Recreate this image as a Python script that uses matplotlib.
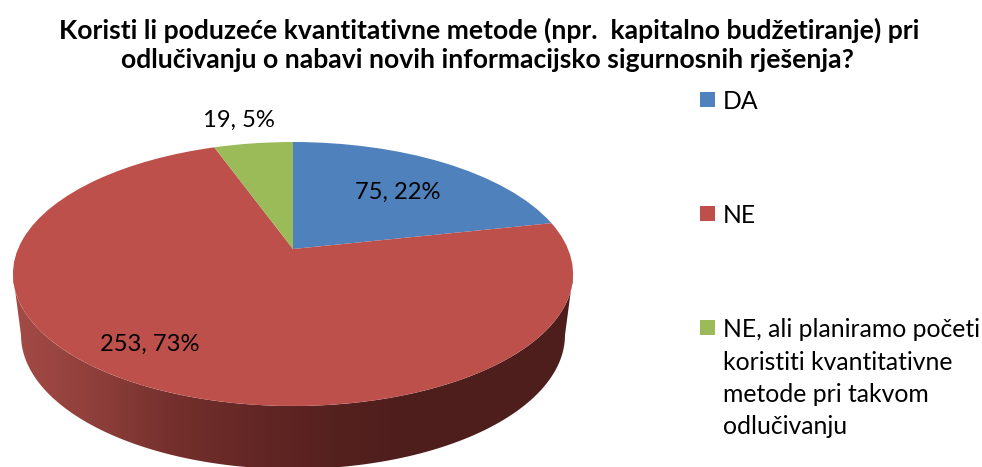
import numpy as np
import matplotlib
matplotlib.use("Agg")
import matplotlib.pyplot as plt
from matplotlib.colors import LinearSegmentedColormap
from matplotlib.patches import Polygon, Rectangle
from matplotlib.transforms import Transform

title_lines = ["Koristi li poduzeće kvantitativne metode (npr.  kapitalno budžetiranje) pri",
               "odlučivanju o nabavi novih informacijsko sigurnosnih rješenja?"]
counts = [75, 253, 19]
percents = [22, 73, 5]
legend_labels = ["DA", "NE", "NE, ali planiramo početi\nkoristiti kvantitativne\nmetode pri takvom\nodlučivanju"]
colors = ["#4F81BD", "#BE504C", "#9BBB59"]
side_colors = ["#A44B46", "#8F3F3B", "#74302D", "#642725", "#55211F", "#4E1E1C", "#4E1E1C", "#4E1E1C"]

FONT = "Lato"
cx, cy = 293, 249
k, a, c = 275.0, -80.1, 0.1894


# tilts the unit circle of the pie into the reference's perspective, pixel coords
class Tilt(Transform):
    input_dims = 2
    output_dims = 2

    def transform_non_affine(self, xy):
        xy = np.asarray(xy, dtype=float)
        w = c * xy[:, 1] + 1
        return np.column_stack((cx + k * xy[:, 0] / w, (a * xy[:, 1] + cy) / w))


fig = plt.figure(figsize=(9.82, 4.67), dpi=100)
ax = fig.add_axes([0, 0, 1, 1])
tilt = Tilt()

wedges, _ = ax.pie(counts, colors=colors, startangle=90, counterclock=False, frame=True,
                   wedgeprops=dict(linewidth=0))
for w in wedges:
    w.set_transform(tilt + ax.transData)
    w.set_zorder(3)

# side wall, only the red slice shows here
t = np.radians(np.linspace(100.9, 259.1, 120))
top_edge = tilt.transform_non_affine(np.column_stack((np.sin(t), np.cos(t))))
s = np.radians(np.linspace(180, 360, 120))
bottom_edge = np.column_stack((293 + 272 * np.cos(s), 335 - 134 * np.sin(s)))
side = Polygon(np.vstack((top_edge, bottom_edge)), closed=True, transform=ax.transData,
               facecolor="none", edgecolor="none")
ax.add_patch(side)
cmap = LinearSegmentedColormap.from_list("side", side_colors)
img = ax.imshow(np.linspace(0, 1, 300).reshape(1, -1), cmap=cmap, extent=(13, 573, 467, 270),
                aspect="auto", zorder=2)
img.set_clip_path(side)

ax.set_aspect("auto")
ax.set_xlim(0, 982)
ax.set_ylim(467, 0)
ax.axis("off")

ax.text(489, 30, title_lines[0], family=FONT, fontweight="bold", fontsize=19.1, ha="center", va="center")
ax.text(487, 60, title_lines[1], family=FONT, fontweight="bold", fontsize=19.1, ha="center", va="center")

label_pos = [(398, 192), (150, 344), (239, 120)]
for (x, y), n, p in zip(label_pos, counts, percents):
    ax.text(x, y, f"{n}, {p}%", family=FONT, fontsize=17.1, ha="center", va="center", zorder=5)

legend_y = [92, 206, 320]
for y, lab, col in zip(legend_y, legend_labels, colors):
    ax.add_patch(Rectangle((700, y), 15, 15, facecolor=col, edgecolor="none"))
    ax.text(723, y - 2, lab, family=FONT, fontsize=17.8, ha="left", va="top", linespacing=1.5)

fig.savefig("out.png", dpi=100)
